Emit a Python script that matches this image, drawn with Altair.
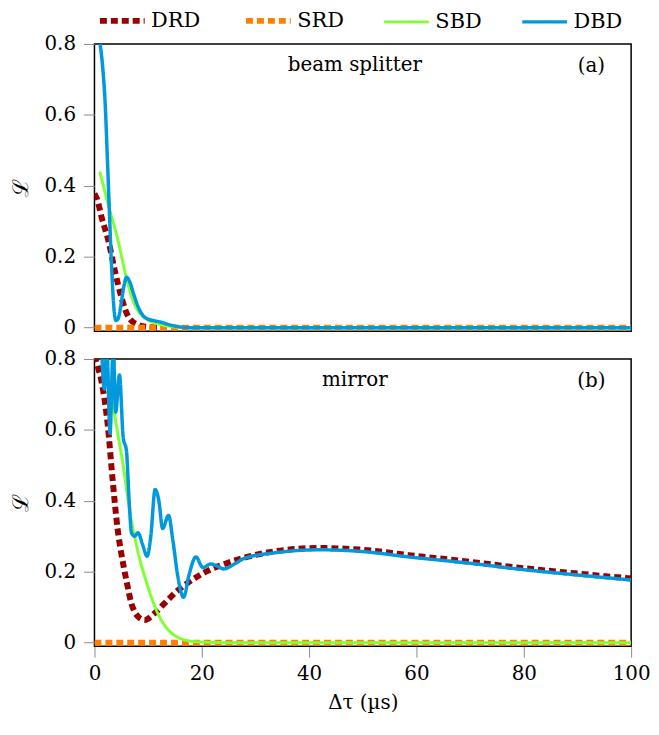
import altair as alt
import pandas as pd

series_order = ["DRD", "SRD", "SBD", "DBD"]
series_colors = ["#990000", "#FF8000", "#80FF33", "#0099DD"]
series_dashes = [[7, 4], [7, 4], [1, 0], [1, 0]]
series_widths = [6, 6, 3, 3.5]

x_ticks = [0, 20, 40, 60, 80, 100]
y_ticks = [0, 0.2, 0.4, 0.6, 0.8]

# ---- panel (a): beam splitter ----
drd_a_x = [0, 0.5, 1.35, 2.6, 3.8, 5.0, 6.3, 8.1, 10, 12]
drd_a_y = [0.378, 0.362, 0.31, 0.245, 0.16, 0.087, 0.031, 0.008, 0.002, 0.0]
srd_a_x = [0, 100]
srd_a_y = [0.0, 0.0]
sbd_a_x = [1.0, 2.6, 4.4, 5.8, 7.2, 8.1, 9.0, 10, 12, 15, 18, 100]
sbd_a_y = [0.44, 0.345, 0.245, 0.15, 0.075, 0.048, 0.032, 0.021, 0.01, 0.002, 0.0, 0.0]
dbd_a_x = [1.05, 1.5, 2.0, 2.4, 2.8, 3.2, 3.6, 4.0, 4.4, 4.9, 5.4, 6.0, 6.6, 7.3, 8.1, 9.0,
           10, 11, 12.5, 14, 16, 18, 100]
dbd_a_y = [0.80, 0.74, 0.63, 0.48, 0.32, 0.17, 0.06, 0.02, 0.025, 0.06, 0.11, 0.142, 0.128,
           0.095, 0.06, 0.035, 0.024, 0.02, 0.015, 0.008, 0.002, 0.0, 0.0]

# ---- panel (b): mirror ----
drd_b_x = [0, 0.5, 1.4, 2.46, 3.38, 4.3, 5.04, 5.96, 6.9, 8.1, 9.35, 11.2, 13.0, 15.5, 18.0,
           21.0, 24.1, 27.8, 33.3, 42, 50, 58.5, 70, 80, 90, 100]
drd_b_y = [0.81, 0.785, 0.73, 0.616, 0.46, 0.322, 0.248, 0.175, 0.11, 0.074, 0.064, 0.083,
           0.110, 0.147, 0.175, 0.202, 0.221, 0.239, 0.257, 0.267, 0.262, 0.247, 0.228, 0.21,
           0.195, 0.181]
srd_b_x = [0, 100]
srd_b_y = [0.0, 0.0]
sbd_b_x = [2.3, 2.6, 3.5, 4.4, 5.35, 6.6, 8.1, 10, 11.8, 13.7, 15.7, 18, 21, 25, 100]
sbd_b_y = [0.79, 0.745, 0.665, 0.585, 0.50, 0.37, 0.257, 0.156, 0.083, 0.037, 0.014, 0.004,
           0.001, 0.0, 0.0]
dbd_b_x = [1.3, 1.85, 2.3, 2.9, 3.5, 3.95, 4.65, 5.35, 5.97, 6.46, 6.9, 7.5, 8.1, 9.0, 9.8,
           10.5, 11.3, 12.0, 12.7, 13.8, 14.6, 15.5, 16.6, 17.6, 18.9, 20.2, 21.7, 22.9, 24.1,
           26, 27.8, 33.3, 42, 50, 58.5, 70, 80, 90, 100]
dbd_b_y = [0.84, 0.715, 0.84, 0.59, 0.84, 0.65, 0.755, 0.58, 0.54, 0.40, 0.31, 0.30, 0.31,
           0.275, 0.244, 0.30, 0.432, 0.40, 0.322, 0.359, 0.29, 0.19, 0.128, 0.19, 0.242,
           0.212, 0.222, 0.216, 0.208, 0.221, 0.237, 0.253, 0.262, 0.257, 0.242, 0.224, 0.206,
           0.191, 0.177]

panel_a = {"DRD": (drd_a_x, drd_a_y), "SRD": (srd_a_x, srd_a_y),
           "SBD": (sbd_a_x, sbd_a_y), "DBD": (dbd_a_x, dbd_a_y)}
panel_b = {"DRD": (drd_b_x, drd_b_y), "SRD": (srd_b_x, srd_b_y),
           "SBD": (sbd_b_x, sbd_b_y), "DBD": (dbd_b_x, dbd_b_y)}

W, H = 540, 289
FONT = "DejaVu Serif"

color_enc = alt.Color("series:N", scale=alt.Scale(domain=series_order, range=series_colors),
                      title=None)
dash_enc = alt.StrokeDash("series:N", scale=alt.Scale(domain=series_order, range=series_dashes),
                          title=None)
width_enc = alt.StrokeWidth("series:N", scale=alt.Scale(type="ordinal", domain=series_order,
                                                        range=series_widths),
                            title=None)

y_axis = alt.Axis(values=y_ticks, title="ℒ", grid=False, domain=False,
                  labelExpr="datum.value == 0 ? '0' : format(datum.value, '.1f')",
                  tickColor="#8a8a8a", tickSize=11, labelPadding=8,
                  titleFontSize=22, titlePadding=12, titleFontWeight="normal")


def panel(data, label, tag, show_x):
    layers = []
    for s in series_order:
        xs, ys = data[s]
        df = pd.DataFrame({"x": xs, "y": ys, "series": s})
        if show_x:
            xax = alt.Axis(values=x_ticks, title="Δτ (µs)", grid=False, domain=False,
                           tickColor="#8a8a8a", tickSize=11, labelPadding=6,
                           titlePadding=10, labelFlush=False)
        else:
            xax = None
        layers.append(
            alt.Chart(df).mark_line(interpolate="monotone", clip=True, strokeCap="butt")
            .encode(
                x=alt.X("x:Q", scale=alt.Scale(domain=[0, 100], nice=False), axis=xax),
                y=alt.Y("y:Q", scale=alt.Scale(domain=[-0.01, 0.8], nice=False), axis=y_axis),
                color=color_enc, strokeDash=dash_enc, strokeWidth=width_enc,
            )
        )
    t1 = alt.Chart(pd.DataFrame({"t": [label]})).mark_text(
        font=FONT, fontSize=20, color="black", align="center", baseline="middle"
    ).encode(text="t:N", x=alt.value(262), y=alt.value(21))
    t2 = alt.Chart(pd.DataFrame({"t": [tag]})).mark_text(
        font=FONT, fontSize=20, color="black", align="center", baseline="middle"
    ).encode(text="t:N", x=alt.value(500), y=alt.value(22))
    return alt.layer(*layers, t1, t2).properties(width=W, height=H)


chart_a = panel(panel_a, "beam splitter", "(a)", False)
chart_b = panel(panel_b, "mirror", "(b)", True)

chart = (
    alt.vconcat(chart_a, chart_b, spacing=28, bounds="flush")
    .properties(padding={"left": 0, "top": 0, "right": 0, "bottom": 0})
    .configure_view(stroke="black", strokeWidth=1.5)
    .configure_axis(labelFont=FONT, labelFontSize=20, titleFont=FONT, titleFontSize=20,
                    titleFontWeight="normal", labelColor="black", titleColor="black")
    .configure_legend(orient="top", direction="horizontal", symbolType="M-1,0H8",
                      symbolSize=100, labelFont=FONT, labelFontSize=21, labelColor="black",
                      columnPadding=33, labelOffset=36, offset=0, padding=0)
)

chart.save("out.html", embed_options={"renderer": "svg", "actions": False})
